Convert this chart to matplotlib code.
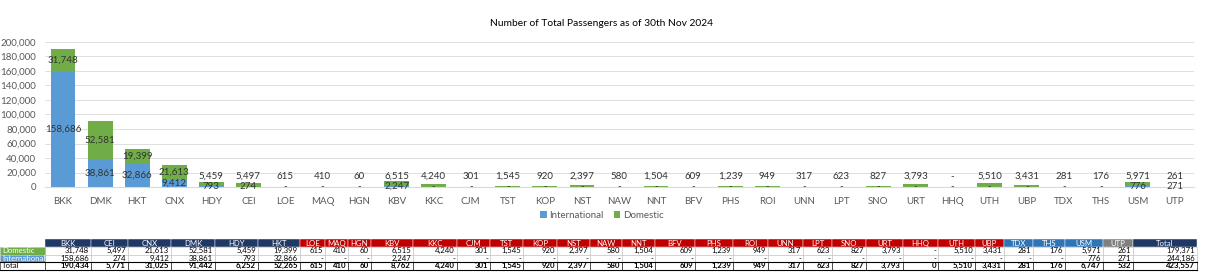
import matplotlib
matplotlib.use("Agg")
import matplotlib.pyplot as plt
from matplotlib.patches import Rectangle

plt.rcParams['font.family'] = ['Lato', 'DejaVu Sans']

# chart order
airports = ["BKK", "DMK", "HKT", "CNX", "HDY", "CEI", "LOE", "MAQ", "HGN", "KBV",
            "KKC", "CJM", "TST", "KOP", "NST", "NAW", "NNT", "BFV", "PHS", "ROI",
            "UNN", "LPT", "SNO", "URT", "HHQ", "UTH", "UBP", "TDX", "THS", "USM", "UTP"]
domestic = [31748, 52581, 19399, 21613, 5459, 5497, 615, 410, 60, 6515,
            4240, 301, 1545, 920, 2397, 580, 1504, 609, 1239, 949,
            317, 623, 827, 3793, 0, 5510, 3431, 281, 176, 5971, 261]
international = [158686, 38861, 32866, 9412, 793, 274, 0, 0, 0, 2247,
                 0, 0, 0, 0, 0, 0, 0, 0, 0, 0,
                 0, 0, 0, 0, 0, 0, 0, 0, 0, 776, 271]

# table order and header groups
table_airports = ["BKK", "CEI", "CNX", "DMK", "HDY", "HKT", "LOE", "MAQ", "HGN", "KBV",
                  "KKC", "CJM", "TST", "KOP", "NST", "NAW", "NNT", "BFV", "PHS", "ROI",
                  "UNN", "LPT", "SNO", "URT", "HHQ", "UTH", "UBP", "TDX", "THS", "USM", "UTP"]
table_groups = ["hub"] * 6 + ["red"] * 21 + ["blue"] * 3 + ["grey"]

BLUE = "#5B9BD5"
GREEN = "#70AD47"
group_colors = {"hub": "#203864", "red": "#C00000", "blue": "#2F75B5", "grey": "#808080"}


def fmt(v):
    return "-" if v == 0 else f"{v:,}"


fig = plt.figure(figsize=(12.16, 2.8), dpi=100)
ax = fig.add_axes([44.5 / 1216, 93 / 280, 1149 / 1216, 145 / 280])

x = list(range(len(airports)))
ax.bar(x, international, width=0.67, color=BLUE, label="International", zorder=2)
ax.bar(x, domestic, bottom=international, width=0.67, color=GREEN, label="Domestic", zorder=2)

for i in x:
    d, n = domestic[i], international[i]
    yd = max(n + d / 2, 14500)
    ax.text(i, yd, fmt(d), ha="center", va="center", fontsize=7, color="#333333", zorder=3)
    ax.text(i, n / 2, fmt(n), ha="center", va="center", fontsize=7, color="#333333", zorder=3)

ax.set_xlim(-0.5, len(airports) - 0.5)
ax.set_ylim(0, 200000)
ax.set_yticks(range(0, 200001, 20000))
ax.yaxis.set_major_formatter(matplotlib.ticker.FuncFormatter(lambda v, p: f"{int(v):,}"))
ax.set_xticks(x)
ax.set_xticklabels(airports)
ax.tick_params(axis="both", length=0, labelsize=7, labelcolor="#595959")
ax.tick_params(axis="x", pad=7)
ax.tick_params(axis="y", pad=6)
ax.grid(axis="y", color="#D9D9D9", linewidth=0.6, zorder=0)
for s in ["top", "left", "right"]:
    ax.spines[s].set_visible(False)
ax.spines["bottom"].set_color("#D9D9D9")
ax.spines["bottom"].set_linewidth(0.8)

fig.text(601 / 1216, 1 - 23 / 280, "Number of Total Passengers as of 30th Nov 2024",
         ha="center", va="center", fontsize=7.4, color="#000000")
ax.legend(loc="center", bbox_to_anchor=(602 / 1216, 1 - 215 / 280), bbox_transform=fig.transFigure,
          ncol=2, frameon=False, fontsize=7, handlelength=0.7, handleheight=0.7,
          handletextpad=0.3, columnspacing=1.0, labelcolor="#595959")

# table underneath
col_edges = [45, 91, 128, 171, 215, 258, 300, 325, 348, 371, 413, 457, 490, 523, 557, 590,
             622, 655, 695, 733, 768, 803, 832, 866, 903, 938, 975, 1004, 1033, 1065, 1103,
             1133, 1197]
top, rh = 239.3, 7.6
tx = fig.add_axes([0, 0, 1, 1])
tx.set_xlim(0, 1216)
tx.set_ylim(280, 0)
tx.axis("off")

dom_map = dict(zip(airports, domestic))
int_map = dict(zip(airports, international))
cols = table_airports + ["Total"]
dom_row = [dom_map[a] for a in table_airports] + [sum(domestic)]
int_row = [int_map[a] for a in table_airports] + [sum(international)]
tot_row = [d + n for d, n in zip(dom_row, int_row)]
head_colors = [group_colors[g] for g in table_groups] + [group_colors["hub"]]

fs = 5.6
for j, name in enumerate(cols):
    x0, x1 = col_edges[j], col_edges[j + 1]
    tx.add_patch(Rectangle((x0, top), x1 - x0, rh, facecolor=head_colors[j], edgecolor="white", lw=0.3))
    tx.text((x0 + x1) / 2, top + rh / 2, name, ha="center", va="center", fontsize=fs, color="white")
    for r, row in enumerate([dom_row, int_row, tot_row]):
        y0 = top + rh * (r + 1)
        tx.add_patch(Rectangle((x0, y0), x1 - x0, rh, facecolor="white",
                               edgecolor="#000000" if r == 2 else "#BFBFBF", lw=0.4))
        txt = f"{row[j]:,}" if r == 2 else fmt(row[j])
        tx.text(x1 - 2, y0 + rh / 2, txt, ha="right", va="center", fontsize=fs,
                color="black", fontweight="bold" if r == 2 else "normal")

row_names = ["Domestic", "International", "Total"]
row_bg = [GREEN, BLUE, "white"]
row_fg = ["white", "white", "black"]
for r in range(3):
    y0 = top + rh * (r + 1)
    tx.add_patch(Rectangle((0, y0), col_edges[0], rh, facecolor=row_bg[r],
                           edgecolor="#000000" if r == 2 else "#BFBFBF", lw=0.4))
    tx.text(2, y0 + rh / 2, row_names[r], ha="left", va="center", fontsize=fs, color=row_fg[r])
tx.plot([0, col_edges[-1]], [top + rh * 3, top + rh * 3], color="black", lw=0.8)
tx.plot([0, col_edges[-1]], [top + rh * 4, top + rh * 4], color="black", lw=0.8)

fig.savefig("out.png", dpi=100)
